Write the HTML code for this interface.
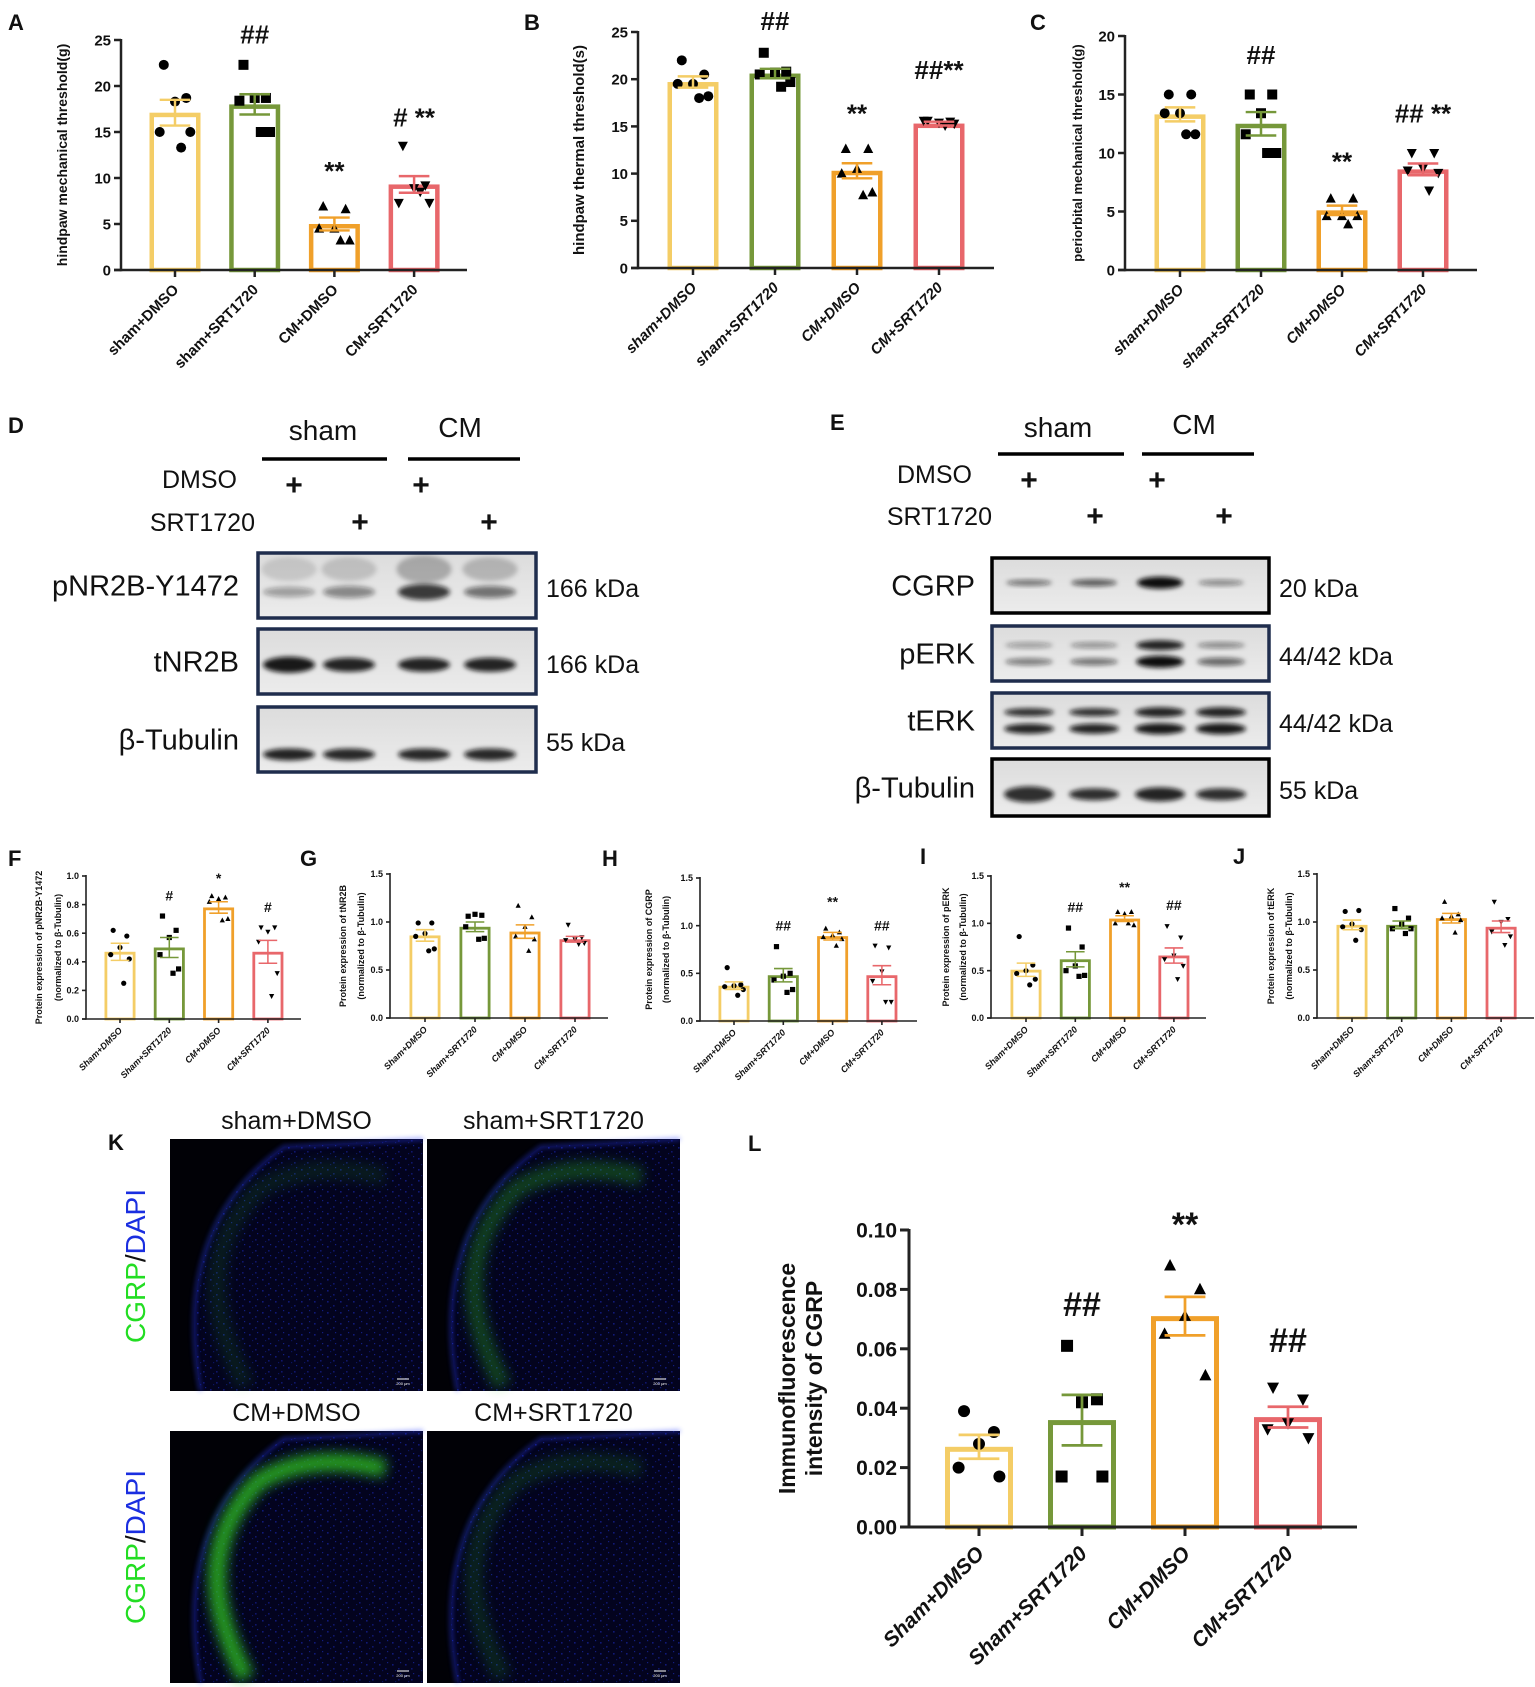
<!DOCTYPE html>
<html><head><meta charset="utf-8"><style>
html,body{margin:0;padding:0;background:#fff}
svg{display:block}
text{font-family:"Liberation Sans",Arial,sans-serif}
</style></head><body>
<svg id="fig" width="1535" height="1687" viewBox="0 0 1535 1687" xmlns="http://www.w3.org/2000/svg">
<defs>
<filter id="blur2" x="-20%" y="-50%" width="140%" height="200%"><feGaussianBlur stdDeviation="2.5"/></filter>
<filter id="blur4" x="-20%" y="-20%" width="140%" height="140%"><feGaussianBlur stdDeviation="6"/></filter>
<pattern id="dapi" width="13" height="11" patternUnits="userSpaceOnUse">
<rect x="2" y="3" width="1.6" height="1.6" fill="#1c2fd0"/><rect x="8" y="7" width="1.6" height="1.6" fill="#1a28b8"/><rect x="10" y="1" width="1.2" height="1.2" fill="#2238e0"/><rect x="5" y="9" width="1.2" height="1.2" fill="#1424a0"/>
</pattern>
<linearGradient id="blotbg" x1="0" y1="0" x2="0" y2="1"><stop offset="0" stop-color="#dcdcdc"/><stop offset="1" stop-color="#ececec"/></linearGradient>
</defs>
<g id="root"></g>
</svg>
<script>
// ---------- DATA ----------
const groupsLower = ['sham+DMSO','sham+SRT1720','CM+DMSO','CM+SRT1720'];
const groupsUpper = ['Sham+DMSO','Sham+SRT1720','CM+DMSO','CM+SRT1720'];

const aMeans = [17.1, 18.0, 5.0, 9.3];
const aSems = [1.4, 1.1, 0.7, 0.9];
const aPoints = [[22.3,18.7,18.3,15,15,13.3],[22.3,18.7,18.7,18.4,15,15],[6.9,6.6,4.5,4.5,3.2,3.2],[13.5,9.2,8.9,7.3,7.3,8.5]];
const aAnnot = ['','##','**','# **'];
const aAnnotY = [0,24.6,9.8,15.6];
const aTicks = [0,5,10,15,20,25];

const bMeans = [19.7, 20.6, 10.3, 15.3];
const bSems = [0.6, 0.5, 0.8, 0.2];
const bPoints = [[22,20.5,19.5,19.5,18.2,18],[22.8,20.8,20.7,20.5,19.7,19.2],[12.6,12.6,10.5,10,8,7.7],[15.6,15.5,15.4,15.6,15.3,15.1]];
const bAnnot = ['','##','**','##**'];
const bAnnotY = [0,25.2,15.4,20.0];
const bTicks = [0,5,10,15,20,25];

const cMeans = [13.3, 12.5, 5.1, 8.6];
const cSems = [0.6, 1.0, 0.4, 0.5];
const cPoints = [[15,15,13.4,13.4,11.6,11.6],[15,15,13.4,11.6,10,10],[6.1,6.1,4.6,4.6,4.6,3.9],[10,10,8.7,8.5,8.3,6.8]];
const cAnnot = ['','##','**','## **'];
const cAnnotY = [0,17.6,8.5,12.6];
const cTicks = [0,5,10,15,20];

const fMeans = [0.47, 0.50, 0.78, 0.47];
const fSems = [0.06, 0.07, 0.04, 0.08];
const fPoints = [[0.62,0.58,0.5,0.45,0.42,0.25],[0.72,0.62,0.57,0.45,0.35,0.32],[0.86,0.85,0.84,0.82,0.7,0.69],[0.64,0.64,0.61,0.54,0.32,0.16]];
const fAnnot = ['','#','*','#'];
const fAnnotY = [0,0.83,0.95,0.75];
const fTicks = [0,0.2,0.4,0.6,0.8,1.0];

const gMeans = [0.86, 0.95, 0.90, 0.82];
const gSems = [0.06, 0.05, 0.07, 0.03];
const gPoints = [[0.99,0.99,0.88,0.85,0.72,0.70],[1.06,1.07,1.08,0.95,0.83,0.82],[1.17,1.05,0.95,0.85,0.82,0.7],[0.97,0.84,0.82,0.81,0.78,0.77]];
const gAnnot = ['','','',''];
const gAnnotY = [0,0,0,0];

const hMeans = [0.37, 0.48, 0.89, 0.48];
const hSems = [0.04, 0.07, 0.04, 0.10];
const hPoints = [[0.56,0.38,0.37,0.36,0.33,0.27],[0.78,0.5,0.47,0.43,0.33,0.3],[0.97,0.93,0.9,0.88,0.86,0.79],[0.79,0.77,0.52,0.42,0.2,0.2]];
const hAnnot = ['','##','**','##'];
const hAnnotY = [0,0.95,1.2,0.95];

const iMeans = [0.51, 0.62, 1.05, 0.66];
const iSems = [0.07, 0.08, 0.03, 0.08];
const iPoints = [[0.86,0.56,0.5,0.47,0.41,0.35],[0.95,0.75,0.55,0.5,0.45,0.44],[1.12,1.12,1.1,1.0,0.98,1.0],[0.97,0.85,0.66,0.62,0.55,0.41]];
const iAnnot = ['','##','**','##'];
const iAnnotY = [0,1.12,1.33,1.14];

const jMeans = [0.97, 0.97, 1.04, 0.95];
const jSems = [0.05, 0.04, 0.05, 0.06];
const jPoints = [[1.11,1.12,0.98,0.95,0.92,0.81],[1.14,1.04,0.98,0.93,0.93,0.88],[1.21,1.08,1.06,1.04,1.02,0.89],[1.21,1.03,1.0,0.9,0.85,0.76]];
const jAnnot = ['','','',''];
const jAnnotY = [0,0,0,0];
const smallTicks15 = [0,0.5,1.0,1.5];

const lMeans = [0.027, 0.036, 0.071, 0.037];
const lSems = [0.004, 0.0085, 0.0065, 0.0035];
const lPoints = [[0.039,0.032,0.028,0.020,0.017],[0.061,0.043,0.042,0.017,0.017],[0.088,0.080,0.071,0.065,0.051],[0.047,0.043,0.035,0.033,0.030]];
const lAnnot = ['','##','**','##'];
const lAnnotY = [0,0.071,0.098,0.059];
const lTicks = [0,0.02,0.04,0.06,0.08,0.10];

// ---------- HELPERS ----------
const NS='http://www.w3.org/2000/svg';
const root=document.getElementById('root');
const colors=['#f4cd66','#76983a','#f0a02a','#e8676b'];
const shapes=['circle','square','up','down'];
function mk(tag,attrs,parent,name,inter){
  const el=document.createElementNS(NS,tag);
  for(const k in attrs) el.setAttribute(k,attrs[k]);
  
  
  (parent||root).appendChild(el);
  return el;
}
function txt(x,y,s,opt,parent,name){
  const o=Object.assign({x:x,y:y,'font-size':14,'font-weight':'bold',fill:'#111'},opt||{});
  const t=mk('text',o,parent,name,false);
  t.textContent=s;
  return t;
}
function marker(g,kind,x,y,r,name){
  if(kind==='circle') return mk('circle',{cx:x,cy:y,r:r,fill:'#000'},g,name,false);
  if(kind==='square') return mk('rect',{x:x-r,y:y-r,width:2*r,height:2*r,fill:'#000'},g,name,false);
  if(kind==='up') return mk('polygon',{points:`${x},${y-r*1.1} ${x-r},${y+r*0.8} ${x+r},${y+r*0.8}`,fill:'#000'},g,name,false);
  return mk('polygon',{points:`${x},${y+r*1.1} ${x-r},${y-r*0.8} ${x+r},${y-r*0.8}`,fill:'#000'},g,name,false);
}
const jit=[-0.22,0.22,0,-0.3,0.3,0.12];

function barChart(L, means, sems, points, annot, annotY, ticks, cats){
  const g=mk('g',{},root,L.id,false);
  const ys=v=>L.y0-(v/L.max)*(L.y0-L.yT);
  const xs=i=>L.first+i*L.step;
  means.forEach((m,i)=>{
    const cx=xs(i), sw=L.sw;
    mk('rect',{x:cx-L.bw/2+sw/2,y:ys(m)+sw/2,width:L.bw-sw,height:Math.max(0,L.y0-ys(m)-sw/2),fill:'#fff',stroke:colors[i],'stroke-width':sw},g,'bar-'+cats[i].toLowerCase().replace(/\+/g,'-'),false);
  });
  points.forEach((arr,i)=>{
    arr.forEach((v,k)=>{
      marker(g,shapes[i],xs(i)+jit[k%jit.length]*L.bw,ys(v),L.mr,'data-point');
    });
  });
  means.forEach((m,i)=>{
    const cx=xs(i), c=colors[i], hw=L.bw*0.3, ew=Math.max(1.2,L.sw*0.55);
    mk('line',{x1:cx,x2:cx,y1:ys(m+sems[i]),y2:ys(m-sems[i]),stroke:c,'stroke-width':ew},g,'error-bar',false);
    mk('line',{x1:cx-hw,x2:cx+hw,y1:ys(m+sems[i]),y2:ys(m+sems[i]),stroke:c,'stroke-width':ew},g,'error-cap',false);
    mk('line',{x1:cx-hw,x2:cx+hw,y1:ys(m-sems[i]),y2:ys(m-sems[i]),stroke:c,'stroke-width':ew},g,'error-cap',false);
  });
  mk('line',{x1:L.ax,x2:L.ax,y1:L.yT-1,y2:L.y0+L.aw/2,stroke:'#222','stroke-width':L.aw},g,'y-axis',false);
  mk('line',{x1:L.ax-L.tl,x2:L.xEnd,y1:L.y0,y2:L.y0,stroke:'#222','stroke-width':L.aw},g,'x-axis',false);
  ticks.forEach(t=>{
    const y=ys(t);
    mk('line',{x1:L.ax-L.tl,x2:L.ax,y1:y,y2:y,stroke:'#222','stroke-width':L.aw},g,'y-tick',false);
    txt(L.ax-L.tl-3,y+L.tfs*0.36,t.toFixed(L.dec),{'font-size':L.tfs,'text-anchor':'end'},g,'y-tick-label');
  });
  cats.forEach((c,i)=>{
    const cx=xs(i);
    mk('line',{x1:cx,x2:cx,y1:L.y0,y2:L.y0+L.tl,stroke:'#222','stroke-width':L.aw},g,'x-tick',false);
    txt(cx+L.xfs*0.3,L.y0+L.tl+L.xfs*0.9,c,{'font-size':L.xfs,'text-anchor':'end','font-style':L.ital?'italic':'normal',transform:`rotate(-45 ${cx+L.xfs*0.3} ${L.y0+L.tl+L.xfs*0.9})`},g,'x-tick-label');
  });
  annot.forEach((a,i)=>{
    if(!a) return;
    txt(xs(i),ys(annotY[i]),a,{'font-size':L.afs,'text-anchor':'middle'},g,'significance-mark');
  });
  const cy=(L.y0+L.yT)/2;
  L.titles.forEach((tt,k)=>{
    txt(L.tx[k],cy,tt,{'font-size':L.yfs,'text-anchor':'middle',transform:`rotate(-90 ${L.tx[k]} ${cy})`},g,'y-axis-title');
  });
  txt(L.lx,L.ly,L.letter,{'font-size':L.lfs||22},g,'panel-label-'+L.letter.toLowerCase());
}

const big={tl:7,aw:2.5,tfs:15,xfs:15,afs:26,yfs:14,mr:5,dec:0,sw:4.5,ital:false,bw:51};
barChart(Object.assign({},big,{id:'panel-a',ax:121,y0:270,yT:40,max:25,first:175,step:79.7,xEnd:467,titles:['hindpaw mechanical threshold(g)'],tx:[67],letter:'A',lx:8,ly:30}),aMeans,aSems,aPoints,aAnnot,aAnnotY,aTicks,groupsLower);
barChart(Object.assign({},big,{id:'panel-b',ax:638,y0:268,yT:32,max:25,first:693,step:82,xEnd:994,titles:['hindpaw thermal threshold(s)'],tx:[584],letter:'B',lx:524,ly:30,ital:true,yfs:15}),bMeans,bSems,bPoints,bAnnot,bAnnotY,bTicks,groupsLower);
barChart(Object.assign({},big,{id:'panel-c',ax:1125,y0:270,yT:36,max:20,first:1180,step:81,xEnd:1477,titles:['periorbital mechanical threshold(g)'],tx:[1082],letter:'C',lx:1030,ly:30,ital:true,yfs:13}),cMeans,cSems,cPoints,cAnnot,cAnnotY,cTicks,groupsLower);

const small={tl:4,aw:1.6,tfs:9,xfs:9,afs:14,yfs:9,mr:2.6,dec:1,sw:2.8,ital:true,bw:31,lfs:22};
barChart(Object.assign({},small,{id:'panel-f',ax:86,y0:1019,yT:876,max:1.0,first:120,step:49.3,xEnd:301,titles:['Protein expression of pNR2B-Y1472','(normalized to β-Tubulin)'],tx:[42,61],letter:'F',lx:8,ly:866}),fMeans,fSems,fPoints,fAnnot,fAnnotY,fTicks,groupsUpper);
barChart(Object.assign({},small,{id:'panel-g',ax:390,y0:1018,yT:874,max:1.5,first:425,step:50,xEnd:608,titles:['Protein expression of tNR2B','(normalized to β-Tubulin)'],tx:[346,364],letter:'G',lx:300,ly:866}),gMeans,gSems,gPoints,gAnnot,gAnnotY,smallTicks15,groupsUpper);
barChart(Object.assign({},small,{id:'panel-h',ax:700,y0:1021,yT:878,max:1.5,first:734,step:49.3,xEnd:917,titles:['Protein expression of CGRP','(normalized to β-Tubulin)'],tx:[652,669],letter:'H',lx:602,ly:866}),hMeans,hSems,hPoints,hAnnot,hAnnotY,smallTicks15,groupsUpper);
barChart(Object.assign({},small,{id:'panel-i',ax:991,y0:1018,yT:876,max:1.5,first:1026,step:49.3,xEnd:1206,titles:['Protein expression of pERK','(normalized to β-Tubulin)'],tx:[949,966],letter:'I',lx:920,ly:864}),iMeans,iSems,iPoints,iAnnot,iAnnotY,smallTicks15,groupsUpper);
barChart(Object.assign({},small,{id:'panel-j',ax:1317,y0:1018,yT:874,max:1.5,first:1352,step:49.7,xEnd:1534,titles:['Protein expression of tERK','(normalized to β-Tubulin)'],tx:[1274,1292],letter:'J',lx:1233,ly:864}),jMeans,jSems,jPoints,jAnnot,jAnnotY,smallTicks15,groupsUpper);

barChart({id:'panel-l',tl:9,aw:3,tfs:21,xfs:21,afs:34,yfs:23,mr:6,dec:2,sw:5,ital:true,bw:68,ax:909,y0:1527,yT:1230,max:0.10,first:979,step:103,xEnd:1357,titles:['Immunofluorescence','intensity of CGRP'],tx:[795,822],letter:'L',lx:748,ly:1151,lfs:22},lMeans,lSems,lPoints,lAnnot,lAnnotY,lTicks,groupsUpper);

// ---------- WESTERN BLOTS ----------
function blotHeader(id,letter,lx,ly,shamX,cmX,hy,lines,dmsoRight,dmsoY,srtRight,srtY,plusD,plusS,fs){
  const g=mk('g',{},root,id,false);
  txt(lx,ly,letter,{'font-size':22},g,'panel-label-'+letter.toLowerCase());
  txt(shamX,hy,'sham',{'font-size':fs,'font-weight':'normal','text-anchor':'middle'},g,'sham-header');
  txt(cmX,hy-3,'CM',{'font-size':fs,'font-weight':'normal','text-anchor':'middle'},g,'cm-header');
  lines.forEach(l=>mk('line',{x1:l[0],x2:l[1],y1:l[2],y2:l[2],stroke:'#000','stroke-width':3.5},g,'group-line',false));
  txt(dmsoRight,dmsoY,'DMSO',{'font-size':fs-3,'font-weight':'normal','text-anchor':'end'},g,'dmso-label');
  txt(srtRight,srtY,'SRT1720',{'font-size':fs-3,'font-weight':'normal','text-anchor':'end'},g,'srt1720-label');
  plusD.forEach(p=>txt(p[0],p[1]+10,'+',{'font-size':30,'text-anchor':'middle'},g,'plus-sign'));
  plusS.forEach(p=>txt(p[0],p[1]+10,'+',{'font-size':30,'text-anchor':'middle'},g,'plus-sign'));
  return g;
}
function blot(g,name,x1,x2,y1,y2,border,lanes,bands,label,kda,labelRight,fs){
  const bg=mk('g',{},g,'blot-'+name,false);
  mk('rect',{x:x1,y:y1,width:x2-x1,height:y2-y1,fill:'url(#blotbg)',stroke:border,'stroke-width':3.5},bg,'blot-frame',false);
  bands.forEach(b=>{
    lanes.forEach((lx,i)=>{
      mk('ellipse',{cx:lx,cy:y1+b.y*(y2-y1),rx:b.w/2,ry:b.h[i],fill:'#111','fill-opacity':b.o[i],filter:'url(#blur2)'},bg,'band',false);
    });
  });
  txt(labelRight,(y1+y2)/2+fs*0.35,label,{'font-size':fs,'font-weight':'normal','text-anchor':'end'},g,'blot-label');
  txt(x2+10,(y1+y2)/2+fs*0.4,kda,{'font-size':fs-4,'font-weight':'normal'},g,'kda-label');
}
const dG=blotHeader('panel-d','D',8,433,323,460,440,[[262,387,459],[408,520,459]],237,488,255,531,[[294,485],[421,485]],[[360,522],[489,522]],28);
const dLanes=[289,349,424,490];
blot(dG,'pnr2b',258,536,553,618,'#1f2d4d',dLanes,[{y:0.6,w:52,h:[5,6,8,6],o:[0.35,0.45,0.8,0.55]},{y:0.25,w:55,h:[12,12,14,12],o:[0.12,0.15,0.25,0.2]}],'pNR2B-Y1472','166 kDa',239,29);
blot(dG,'tnr2b',258,536,629,694,'#1f2d4d',dLanes,[{y:0.55,w:52,h:[8,7,7,7],o:[0.95,0.9,0.9,0.9]}],'tNR2B','166 kDa',239,29);
blot(dG,'tubulin-d',258,536,707,772,'#1f2d4d',dLanes,[{y:0.73,w:52,h:[6,6,6,6],o:[0.9,0.88,0.88,0.88]}],'β-Tubulin','55 kDa',239,29);

const eG=blotHeader('panel-e','E',830,430,1058,1194,437,[[998,1124,454],[1142,1254,454]],972,483,992,525,[[1029,480],[1157,480]],[[1095,516],[1224,516]],28);
const eLanes=[1029,1094,1160,1221];
blot(eG,'cgrp',992,1269,558,613,'#000',eLanes,[{y:0.45,w:46,h:[3,3.5,6,3],o:[0.55,0.65,1,0.45]}],'CGRP','20 kDa',975,29);
blot(eG,'perk',992,1269,626,681,'#1f2d4d',eLanes,[{y:0.35,w:48,h:[3,3,5,3],o:[0.35,0.4,0.9,0.45]},{y:0.65,w:48,h:[3.5,3.5,6,4],o:[0.5,0.55,1,0.6]}],'pERK','44/42 kDa',975,29);
blot(eG,'terk',992,1269,693,748,'#1f2d4d',eLanes,[{y:0.35,w:50,h:[4,4,5,5],o:[0.85,0.85,0.9,0.9]},{y:0.65,w:50,h:[5,5,5.5,5.5],o:[0.9,0.9,0.95,0.95]}],'tERK','44/42 kDa',975,29);
blot(eG,'tubulin-e',992,1269,759,816,'#000',eLanes,[{y:0.62,w:50,h:[8,6,7,6],o:[0.85,0.85,0.9,0.85]}],'β-Tubulin','55 kDa',975,29);

// ---------- FLUORESCENCE IMAGES ----------
const kG=mk('g',{},root,'panel-k',false);
txt(108,1150,'K',{'font-size':22},kG,'panel-label-k');
const imgs=[
  {name:'sham-dmso',title:'sham+DMSO',x:170,y:1139,g:0.12},
  {name:'sham-srt1720',title:'sham+SRT1720',x:427,y:1139,g:0.3},
  {name:'cm-dmso',title:'CM+DMSO',x:170,y:1431,g:0.75},
  {name:'cm-srt1720',title:'CM+SRT1720',x:427,y:1431,g:0.16}
];
imgs.forEach(im=>{
  const w=253,h=252;
  const g=mk('g',{},kG,'micrograph-'+im.name,false);
  mk('rect',{x:im.x,y:im.y,width:w,height:h,fill:'#010106'},g,'image-bg',false);
  mk('path',{d:`M${im.x+w*0.12} ${im.y+h} Q${im.x} ${im.y+h*0.35} ${im.x+w*0.45} ${im.y+h*0.03} L${im.x+w} ${im.y} L${im.x+w} ${im.y+h} Z`,fill:'#03031e'},g,'tissue',false);
  mk('path',{d:`M${im.x+w*0.12} ${im.y+h} Q${im.x} ${im.y+h*0.35} ${im.x+w*0.45} ${im.y+h*0.03} L${im.x+w} ${im.y} L${im.x+w} ${im.y+h} Z`,fill:'url(#dapi)',opacity:0.5},g,'dapi-signal',false);
  mk('path',{d:`M${im.x+w*0.12} ${im.y+h} Q${im.x} ${im.y+h*0.35} ${im.x+w*0.45} ${im.y+h*0.03} L${im.x+w} ${im.y}`,fill:'none',stroke:'#2a3cff','stroke-width':3,opacity:0.5,filter:'url(#blur2)'},g,'dapi-edge',false);
  mk('path',{d:`M${im.x+w*0.3} ${im.y+h*0.98} Q${im.x+w*0.05} ${im.y+h*0.5} ${im.x+w*0.35} ${im.y+h*0.2} Q${im.x+w*0.55} ${im.y+h*0.08} ${im.x+w*0.85} ${im.y+h*0.15}`,fill:'none',stroke:'#33cc22','stroke-width':18,opacity:im.g,filter:'url(#blur4)'},g,'cgrp-signal',false);
  mk('line',{x1:im.x+w-26,x2:im.x+w-14,y1:im.y+h-12,y2:im.y+h-12,stroke:'#fff','stroke-width':1},g,'scale-bar',false);
  txt(im.x+w-20,im.y+h-6,'200 μm',{'font-size':4,fill:'#fff','font-weight':'normal','text-anchor':'middle'},g,'scale-bar-label');
  txt(im.x+w/2,im.y-10,im.title,{'font-size':25,'font-weight':'normal','text-anchor':'middle'},g,'image-title');
});
[[145,1266],[145,1547]].forEach(p=>{
  const t=mk('text',{x:p[0],y:p[1],'font-size':28,'text-anchor':'middle',transform:`rotate(-90 ${p[0]} ${p[1]})`},kG,'cgrp-dapi-label',false);
  const a=mk('tspan',{fill:'#22dd22'},t,'cgrp-text',false); a.textContent='CGRP';
  const b=mk('tspan',{fill:'#111'},t,'slash-text',false); b.textContent='/';
  const c=mk('tspan',{fill:'#1a2ee0'},t,'dapi-text',false); c.textContent='DAPI';
});
</script>
</body></html>
